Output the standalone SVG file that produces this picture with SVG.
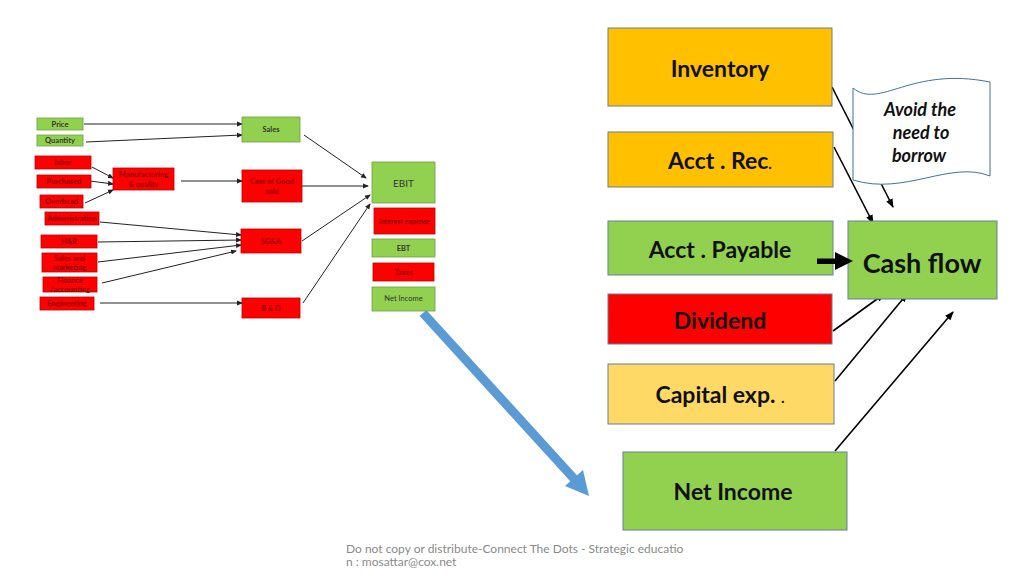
<svg xmlns="http://www.w3.org/2000/svg" width="1024" height="575" viewBox="0 0 1024 575">
<defs>
<marker id="sa" markerUnits="userSpaceOnUse" markerWidth="6" markerHeight="6" refX="5" refY="3" orient="auto"><path d="M0,0.5 L6,3 L0,5.5 Z" fill="#222"/></marker>
<marker id="ma" markerUnits="userSpaceOnUse" markerWidth="9" markerHeight="8" refX="8" refY="4" orient="auto"><path d="M0,0.5 L9,4 L0,7.5 Z" fill="#000"/></marker>
</defs>
<style>
.g{fill:#92D050;stroke:#6E9E3C;stroke-width:0.8}
.r{fill:#FF0000;stroke:#C00000;stroke-width:0.8}
.tg{font-family:"Lato","Liberation Sans",sans-serif;font-size:7.5px;font-weight:bold;fill:#333;text-anchor:middle}
.tr{font-family:"Lato","Liberation Sans",sans-serif;font-size:7.5px;font-weight:bold;fill:#8B0000;text-anchor:middle}
.big{stroke:#6A7F93;stroke-width:1}
.bt{font-family:"Lato","Liberation Sans",sans-serif;font-weight:bold;font-size:23px;fill:#111;text-anchor:middle}
.thin line{stroke:#222;stroke-width:1;marker-end:url(#sa)}
.med line{stroke:#000;stroke-width:1.6;marker-end:url(#ma)}
</style>
<rect width="1024" height="575" fill="#fff"/>

<!-- connectors -->
<g id="connectors">
<g class="thin">
<line x1="84" y1="124" x2="242" y2="124"/>
<line x1="86" y1="142" x2="242" y2="135"/>
<line x1="92" y1="167" x2="113" y2="178"/>
<line x1="90" y1="181" x2="113" y2="184"/>
<line x1="85" y1="203" x2="113" y2="190"/>
<line x1="181" y1="181" x2="242" y2="181"/>
<line x1="100" y1="222" x2="241" y2="235"/>
<line x1="98" y1="242" x2="241" y2="240"/>
<line x1="98" y1="262" x2="241" y2="245"/>
<line x1="102" y1="283" x2="236" y2="251"/>
<line x1="100" y1="303" x2="242" y2="303"/>
<line x1="304" y1="135" x2="366" y2="178"/>
<line x1="302" y1="186" x2="368" y2="186"/>
<line x1="302" y1="241" x2="370" y2="195"/>
<line x1="303" y1="303" x2="370" y2="204"/>
</g>
<g class="med">
<line x1="832" y1="87" x2="893" y2="207"/>
<line x1="834" y1="147" x2="873" y2="223"/>
<line x1="833" y1="331" x2="884" y2="294"/>
<line x1="835" y1="381" x2="907" y2="294"/>
<line x1="835" y1="451" x2="953" y2="312"/>
</g>
<g id="blue-arrow">
<line x1="423" y1="313" x2="577" y2="482" stroke="#5B9BD5" stroke-width="9"/>
<polygon points="589,496 565,486 583,470" fill="#5B9BD5"/>
</g>
</g>

<!-- left nodes -->
<g id="n-price"><rect class="g" x="37" y="118" width="46" height="12"/><text class="tg" x="60" y="126.5">Price</text></g>
<g id="n-quantity"><rect class="g" x="37" y="135" width="46" height="11"/><text class="tg" x="60" y="143">Quantity</text></g>
<g id="n-labor"><rect class="r" x="35" y="156" width="56" height="13"/><text class="tr" x="63" y="165">labor</text></g>
<g id="n-purchased"><rect class="r" x="37" y="175" width="54" height="13"/><text class="tr" x="64" y="184">Purchased</text></g>
<g id="n-overhead"><rect class="r" x="40" y="195" width="43" height="13"/><text class="tr" x="61.5" y="204">Overhead</text></g>
<g id="n-mfg"><rect class="r" x="113" y="168" width="61" height="22"/><text class="tr" x="143.5" y="177">Manufacturing</text><text class="tr" x="143.5" y="186.5">&amp; quality</text></g>
<g id="n-admin"><rect class="r" x="45" y="212" width="54" height="13"/><text class="tr" x="72" y="221">Administration</text></g>
<g id="n-hr"><rect class="r" x="41" y="235" width="56" height="13"/><text class="tr" x="69" y="244">H&amp;R</text></g>
<g id="n-sales-mkt"><rect class="r" x="42" y="253" width="55" height="19"/><text class="tr" x="69.5" y="260.5">Sales and</text><text class="tr" x="69.5" y="269.5">marketing</text></g>
<g id="n-finance"><rect class="r" x="43" y="277" width="54" height="15"/><text class="tr" x="70" y="283">Finance</text><text class="tr" x="70" y="292">/accounting</text></g>
<g id="n-eng"><rect class="r" x="40" y="297" width="54" height="13"/><text class="tr" x="67" y="306">Engineering</text></g>

<g id="n-sales"><rect class="g" x="242" y="117" width="58" height="25"/><text class="tg" x="271" y="132">Sales</text></g>
<g id="n-cogs"><rect class="r" x="242" y="170" width="60" height="32"/><text class="tr" x="272" y="184">Cost of Good</text><text class="tr" x="272" y="193.5">sold</text></g>
<g id="n-sga"><rect class="r" x="241" y="229" width="60" height="24"/><text class="tr" x="271" y="243.5">SG&amp;A</text></g>
<g id="n-rd"><rect class="r" x="242" y="298" width="58" height="20"/><text class="tr" x="271" y="311">R &amp; D</text></g>

<g id="n-ebit"><rect class="g" x="372" y="162" width="63" height="41"/><text class="tg" x="403.5" y="187" style="font-size:10px;font-weight:normal">EBIT</text></g>
<g id="n-interest"><rect class="r" x="374" y="208" width="61" height="26"/><text class="tr" x="404.5" y="223.5" style="font-size:7px">Interest expense</text></g>
<g id="n-ebt"><rect class="g" x="372" y="239" width="63" height="18"/><text class="tg" x="403.5" y="250.5">EBT</text></g>
<g id="n-taxes"><rect class="r" x="373" y="263" width="61" height="18"/><text class="tr" x="403.5" y="274.5">Taxes</text></g>
<g id="n-netincome-s"><rect class="g" x="372" y="287" width="63" height="24"/><text class="tg" x="403.5" y="301" style="font-weight:normal">Net Income</text></g>

<!-- right nodes -->
<g id="n-inventory"><rect class="big" x="608" y="28" width="224" height="78" fill="#FFC000"/><text class="bt" x="720" y="77">Inventory</text></g>
<g id="n-acctrec"><rect class="big" x="608" y="132" width="225" height="55" fill="#FFC000"/><text class="bt" x="720" y="169">Acct . Rec<tspan style="font-size:15px">.</tspan></text></g>
<g id="n-acctpay"><rect class="big" x="608" y="221" width="225" height="54" fill="#92D050"/><text class="bt" x="720" y="258">Acct . Payable</text></g>
<g id="n-cashflow"><rect class="big" x="848" y="221" width="149" height="78" fill="#92D050"/><text class="bt" x="922" y="273" style="font-size:27px">Cash flow</text></g>
<g id="n-dividend"><rect class="big" x="608" y="294" width="224" height="50" fill="#FF0000"/><text class="bt" x="720" y="329">Dividend</text></g>
<g id="n-capex"><rect class="big" x="608" y="364" width="226" height="60" fill="#FFD966"/><text class="bt" x="720" y="403">Capital exp. <tspan style="font-size:15px">.</tspan></text></g>
<g id="n-netincome"><rect class="big" x="623" y="452" width="224" height="78" fill="#92D050"/><text class="bt" x="733" y="500">Net Income</text></g>

<g id="payable-arrow">
<polygon points="817,258.5 835,258.5 835,252 853,261 835,270 835,264 817,264" fill="#000"/>
</g>

<g id="n-callout">
<path d="M853,88 C880,110 910,66 990,82 L990,176 C950,160 905,196 853,180 Z" fill="#fff" stroke="#41719C" stroke-width="1"/>
<g font-family="Lato,'Liberation Sans',sans-serif" font-weight="bold" font-style="italic" font-size="18" fill="#111" text-anchor="middle">
<text x="920" y="116">Avoid the</text>
<text x="921" y="139">need to</text>
<text x="919" y="162">borrow</text>
</g>
</g>

<g id="footer" font-family="Lato,'Liberation Sans',sans-serif" font-size="12" fill="#8a8a8a">
<text x="346" y="553">Do not copy or distribute-Connect The Dots - Strategic educatio</text>
<text x="346" y="566">n : mosattar@cox.net</text>
</g>
</svg>
